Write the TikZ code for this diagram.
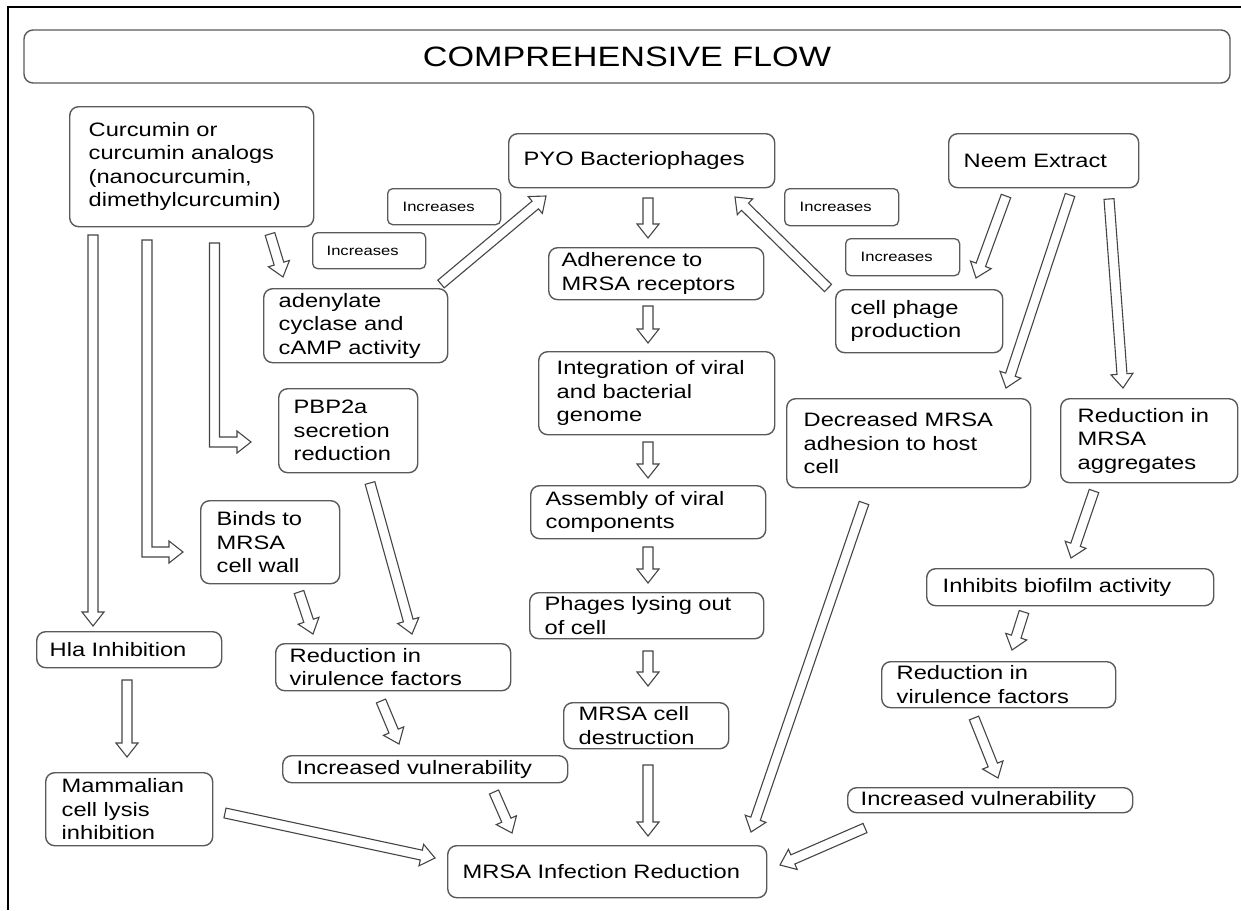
\documentclass[tikz,border=0pt]{standalone}
\usepackage{fontspec}
\setmainfont{Liberation Sans}[FakeStretch=1.22]
\usetikzlibrary{calc}
\definecolor{boxc}{HTML}{5A5A5A}
\definecolor{arrc}{HTML}{454545}

% name, x0, y0, x1, y1, pad, style, text
\newcommand{\bx}[8]{%
  \pgfmathsetmacro{\bxw}{#4-#2}%
  \pgfmathsetmacro{\bxh}{#5-#3}%
  \pgfmathsetmacro{\bxt}{#4-#2-2*#6}%
  \node[#7, anchor=north west, minimum width=\bxw pt, minimum height=\bxh pt,
        text width=\bxt pt, inner xsep=#6pt] (#1) at (#2,#3) {#8};%
}
% straight hollow block arrow from #1 to #2
\newcommand{\barrow}[2]{%
  \coordinate (hb) at ($(#2)!14pt!(#1)$);%
  \draw[arr] ($(#1)!5pt!90:(#2)$) -- ($(hb)!5pt!90:(#2)$) -- ($(hb)!11pt!90:(#2)$)
     -- (#2) -- ($(hb)!11pt!-90:(#2)$) -- ($(hb)!5pt!-90:(#2)$)
     -- ($(#1)!5pt!-90:(#2)$) -- cycle;%
}
% bent hollow arrow: down from #1, then right to tip #2
\newcommand{\bentarrow}[2]{%
  \coordinate (bc) at (#1 |- #2);%
  \draw[arr] ($(#1)+(-5,0)$) -- ($(bc)+(-5,5)$) -- ($(#2)+(-14,5)$) -- ($(#2)+(-14,11)$)
     -- (#2) -- ($(#2)+(-14,-11)$) -- ($(#2)+(-14,-5)$) -- ($(bc)+(5,-5)$)
     -- ($(#1)+(5,0)$) -- cycle;%
}

\tikzset{
  box/.style={draw=boxc, line width=1.4pt, rounded corners=9pt, align=left,
    inner ysep=0pt, font=\fontsize{19.4}{23.5}\selectfont, text=black},
  smallbox/.style={draw=boxc, line width=1.3pt, rounded corners=5pt, align=left,
    inner ysep=0pt, font=\fontsize{13.6}{15}\selectfont, text=black},
  titlebox/.style={draw=boxc, line width=1.4pt, rounded corners=9pt, inner sep=0pt,
    font=\fontsize{28}{30}\selectfont, text=black},
  arr/.style={draw=arrc, line width=1.1pt, fill=white, line join=miter},
  frame/.style={draw=black, line width=1.5pt},
}

\begin{document}
\begin{tikzpicture}[x=1pt, y=-1pt]
\fill[white] (0,0) rectangle (1241,910);
\useasboundingbox (0,0) rectangle (1241,910);
\draw[frame] (8,910) -- (8,7) -- (1241,7);

\node[titlebox, minimum width=1206pt, minimum height=53pt] (title) at (627,56.5) {COMPREHENSIVE FLOW};

\bx{cur}{69}{106}{313}{226}{19}{box}{Curcumin or\\curcumin analogs\\(nanocurcumin,\\dimethylcurcumin)}
\bx{pyo}{508}{133}{774}{187}{15}{box}{PYO Bacteriophages}
\bx{neem}{948}{133}{1138}{187}{15}{box}{Neem Extract}
\bx{inc1}{387}{188}{500}{224}{15}{smallbox}{Increases}
\bx{inc2}{312}{232}{425}{268}{14}{smallbox}{Increases}
\bx{inc3}{784}{188}{898}{225}{15}{smallbox}{Increases}
\bx{inc4}{845}{238}{959}{275}{15}{smallbox}{Increases}
\bx{aden}{263}{288}{447}{362}{15}{box}{adenylate\\cyclase and\\cAMP activity}
\bx{adh}{548}{247}{763}{299}{13}{box}{Adherence to\\MRSA receptors}
\bx{cph}{835}{289}{1002}{352}{15}{box}{cell phage\\production}
\bx{pbp}{278}{388}{417}{472}{15}{box}{PBP2a\\secretion\\reduction}
\bx{integ}{538}{351}{774}{434}{18}{box}{Integration of viral\\and bacterial\\genome}
\bx{decr}{786}{398}{1030}{487}{17}{box}{Decreased MRSA\\adhesion to host\\cell}
\bx{aggr}{1060}{398}{1237}{482}{17}{box}{Reduction in\\MRSA\\aggregates}
\bx{assem}{530}{485}{765}{538}{15}{box}{Assembly of viral\\components}
\bx{binds}{200}{500}{339}{583}{16}{box}{Binds to\\MRSA\\cell wall}
\bx{inhib}{926}{568}{1213}{605}{16}{box}{Inhibits biofilm activity}
\bx{phlys}{529}{592}{763}{638}{15}{box}{Phages lysing out\\of cell}
\bx{hla}{36}{631}{221}{667}{13}{box}{Hla Inhibition}
\bx{rvl}{275}{643}{510}{690}{14}{box}{Reduction in\\virulence factors}
\bx{rvr}{881}{661}{1115}{707}{15}{box}{Reduction in\\virulence factors}
\bx{dest}{563}{702}{728}{748}{15}{box}{MRSA cell\\destruction}
\bx{ivl}{282}{755}{567}{782}{14}{box}{Increased vulnerability}
\bx{mamm}{45}{772}{212}{845}{16}{box}{Mammalian\\cell lysis\\inhibition}
\bx{ivr}{847}{787}{1132}{812}{13}{box}{Increased vulnerability}
\bx{inf}{447}{845}{766}{897}{15}{box}{MRSA Infection Reduction}

% arrow end points
\coordinate (a1s) at (270,234);   \coordinate (a1e) at (283,277);
\coordinate (a2s) at (441,284);   \coordinate (a2e) at (546,196);
\coordinate (a3s) at (648,198);   \coordinate (a3e) at (648,238);
\coordinate (a4s) at (648,306);   \coordinate (a4e) at (648,343);
\coordinate (a5s) at (648,442);   \coordinate (a5e) at (648,478);
\coordinate (a6s) at (648,547);   \coordinate (a6e) at (648,583);
\coordinate (a7s) at (648,651);   \coordinate (a7e) at (648,686);
\coordinate (a8s) at (648,765);   \coordinate (a8e) at (648,836);
\coordinate (a9s) at (828,288);   \coordinate (a9e) at (735,197);
\coordinate (a10s) at (1006,196); \coordinate (a10e) at (976,278);
\coordinate (a11s) at (1070,195); \coordinate (a11e) at (1006,388);
\coordinate (a12s) at (1109,199); \coordinate (a12e) at (1123,388);
\coordinate (a13s) at (864,503);  \coordinate (a13e) at (751,832);
\coordinate (a14s) at (1094,491); \coordinate (a14e) at (1071,558);
\coordinate (a15s) at (1024,612); \coordinate (a15e) at (1012,650);
\coordinate (a16s) at (974,718);  \coordinate (a16e) at (998,778);
\coordinate (a17s) at (865,828);  \coordinate (a17e) at (780,865);
\coordinate (a18s) at (370,483);  \coordinate (a18e) at (412,634);
\coordinate (a19s) at (299,592);  \coordinate (a19e) at (313,634);
\coordinate (a20s) at (381,701);  \coordinate (a20e) at (399,744);
\coordinate (a21s) at (494,792);  \coordinate (a21e) at (512,833);
\coordinate (a22s) at (127,680);  \coordinate (a22e) at (127,757);
\coordinate (a23s) at (225,813);  \coordinate (a23e) at (435,858);
\coordinate (a24s) at (93,235);   \coordinate (a24e) at (93,626);
\coordinate (b1s) at (147,240);   \coordinate (b1e) at (183,552);
\coordinate (b2s) at (214.5,243); \coordinate (b2e) at (251,442);

\barrow{a1s}{a1e}
\barrow{a2s}{a2e}
\barrow{a3s}{a3e}
\barrow{a4s}{a4e}
\barrow{a5s}{a5e}
\barrow{a6s}{a6e}
\barrow{a7s}{a7e}
\barrow{a8s}{a8e}
\barrow{a9s}{a9e}
\barrow{a10s}{a10e}
\barrow{a11s}{a11e}
\barrow{a12s}{a12e}
\barrow{a13s}{a13e}
\barrow{a14s}{a14e}
\barrow{a15s}{a15e}
\barrow{a16s}{a16e}
\barrow{a17s}{a17e}
\barrow{a18s}{a18e}
\barrow{a19s}{a19e}
\barrow{a20s}{a20e}
\barrow{a21s}{a21e}
\barrow{a22s}{a22e}
\barrow{a23s}{a23e}
\barrow{a24s}{a24e}
\bentarrow{b1s}{b1e}
\bentarrow{b2s}{b2e}
\end{tikzpicture}
\end{document}
